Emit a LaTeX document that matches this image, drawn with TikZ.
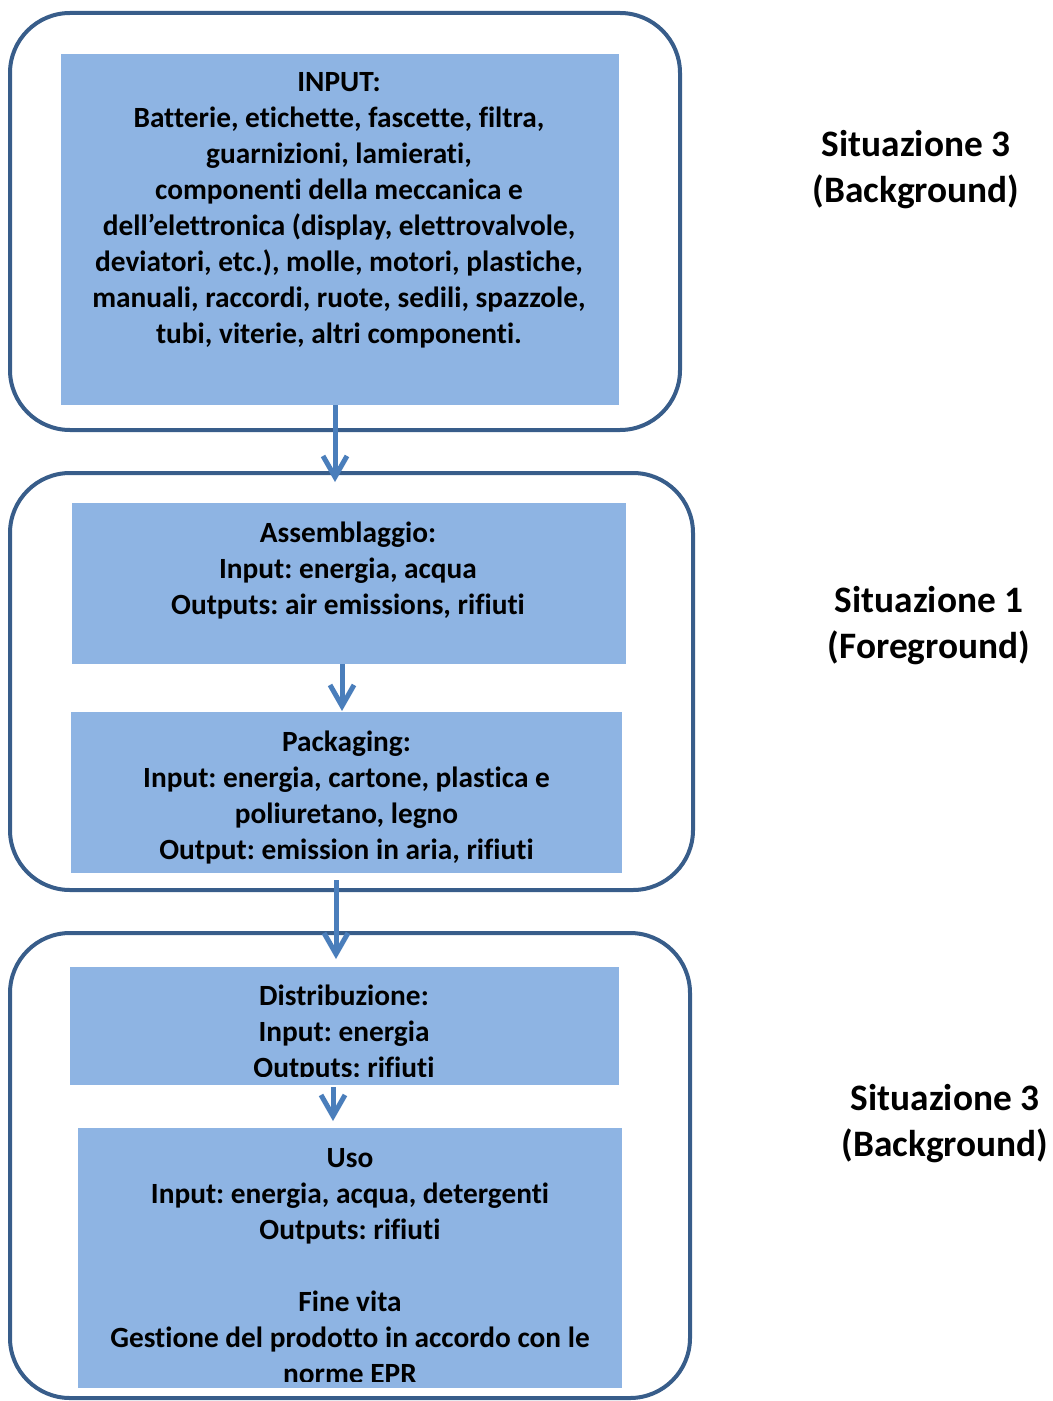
\documentclass[tikz,border=0pt]{standalone}
\usepackage{fontspec}
\setmainfont{Carlito}[Ligatures=NoCommon]
\usetikzlibrary{arrows.meta}
\newdimen\pxu \pxu=0.75pt
\definecolor{outc}{HTML}{385D8A}
\definecolor{fillc}{HTML}{8EB4E3}
\definecolor{arrc}{HTML}{4A7EBB}
\tikzset{
  outerbox/.style={draw=outc, line width=3pt, rounded corners=45pt},
  inbox/.style={fill=fillc, draw=none, inner sep=0pt, outer sep=0pt},
  boxtext/.style={align=center, inner sep=0pt, text=black, font=\frenchspacing\bfseries\fontsize{22}{27}\selectfont},
  sidetext/.style={align=center, inner sep=0pt, text=black, font=\frenchspacing\bfseries\fontsize{28}{34.5}\selectfont},
  arr/.style={draw=arrc, line width=3.75pt, -{Straight Barb[length=15.75pt,width=18pt]}}
}
\begin{document}
\begin{tikzpicture}[x=0.75pt,y=-0.75pt]
\useasboundingbox (0,0) rectangle (1052,1401);

% outer rounded boxes
\draw[outerbox] (10,13) rectangle (680,430);
\draw[outerbox] (10,473) rectangle (693,890);
\draw[outerbox] (10,933) rectangle (690,1398);

% inner boxes
\node[inbox, minimum width=558\pxu, minimum height=351\pxu] (b1) at (340,229.5) {};
\node[inbox, minimum width=554\pxu, minimum height=161\pxu] (b2a) at (349,583.5) {};
\node[inbox, minimum width=551\pxu, minimum height=161\pxu] (b2b) at (346.5,792.5) {};
\node[inbox, minimum width=549\pxu, minimum height=118\pxu] (b3a) at (344.5,1026) {};
\node[inbox, minimum width=544\pxu, minimum height=260\pxu] (b3b) at (350,1258) {};

% texts
\node[boxtext] (t1) at (339,210.5) {INPUT:\\Batterie, etichette, fascette, filtra,\\guarnizioni, lamierati,\\componenti della meccanica e\\dell’elettronica (display, elettrovalvole,\\deviatori, etc.), molle, motori, plastiche,\\manuali, raccordi, ruote, sedili, spazzole,\\tubi, viterie, altri componenti.};
\node[boxtext] (t2a) at (348,570.3) {Assemblaggio:\\Input: energia, acqua\\Outputs: air emissions, rifiuti};
\node[boxtext] (t2b) at (346.5,797.5) {Packaging:\\Input: energia, cartone, plastica e\\poliuretano, legno\\Output: emission in aria, rifiuti};
\begin{scope}
\clip (70,967) rectangle (619,1076);
\node[boxtext] (t3a) at (344,1034) {Distribuzione:\\Input: energia\\Outputs: rifiuti};
\end{scope}
\begin{scope}
\clip (78,1128) rectangle (622,1381);
\node[boxtext] (t3b) at (350,1266) {Uso\\Input: energia, acqua, detergenti\\Outputs: rifiuti\\[27pt]Fine vita\\Gestione del prodotto in accordo con le\\norme EPR};
\end{scope}

% side labels
\node[sidetext] (s1) at (916,170) {Situazione 3\\(Background)};
\node[sidetext] (s2) at (929,626) {Situazione 1\\(Foreground)};
\node[sidetext] (s3) at (945,1124) {Situazione 3\\(Background)};

% arrows
\coordinate (a1e) at (335,482);
\coordinate (a2e) at (342,711);
\coordinate (a3s) at (336,880);
\coordinate (a3e) at (336,959);
\coordinate (a4s) at (333,1087);
\coordinate (a4e) at (333,1121);
\draw[arr] (b1.south -| a1e) -- (a1e);
\draw[arr] (b2a.south -| a2e) -- (a2e);
\draw[arr] (a3s) -- (a3e);
\draw[arr] (a4s) -- (a4e);
\end{tikzpicture}
\end{document}
